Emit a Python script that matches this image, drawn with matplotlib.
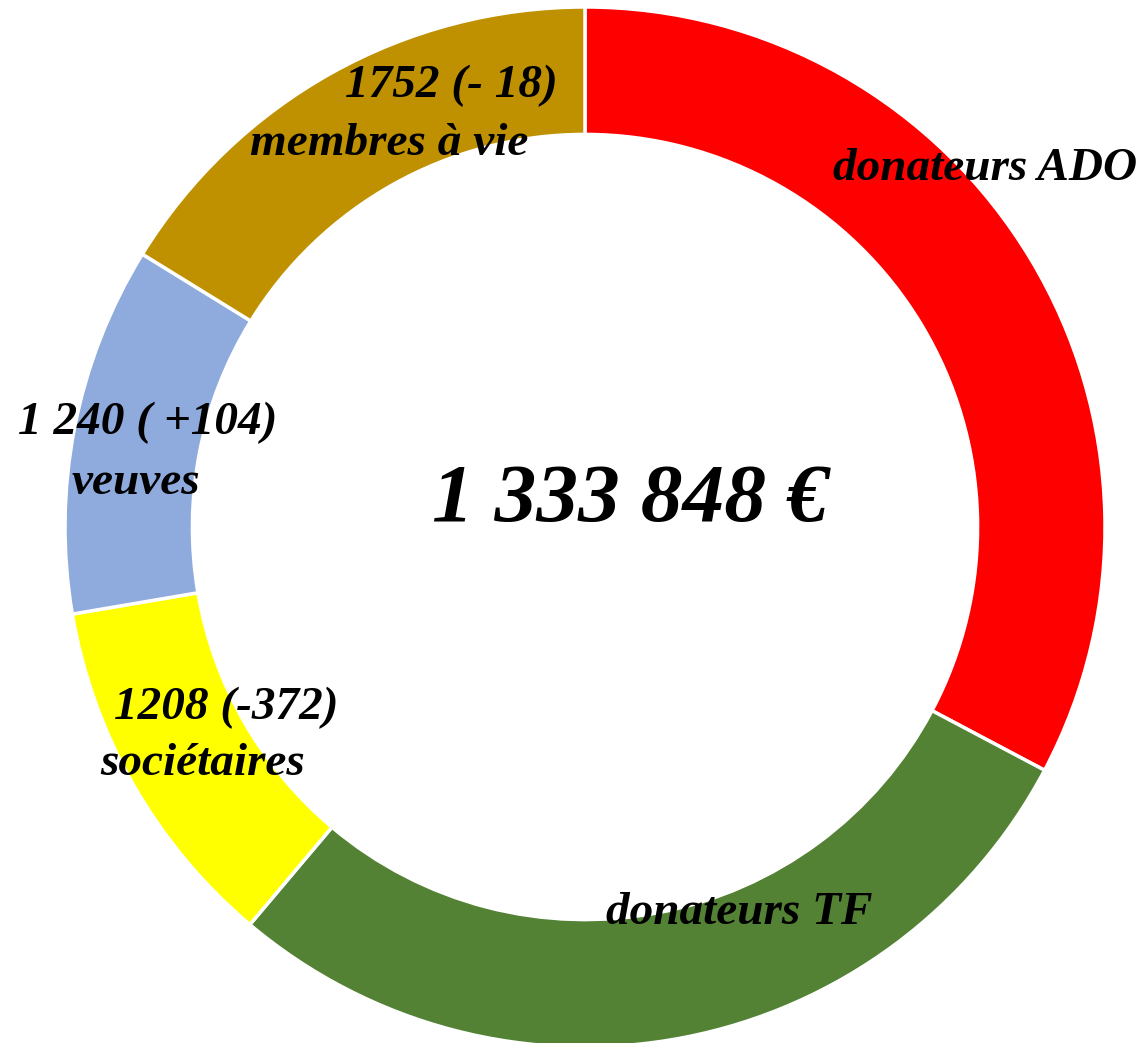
import matplotlib
matplotlib.use("Agg")
import matplotlib.pyplot as plt

# segments, clockwise from 12 o'clock
categories = ["donateurs ADO", "donateurs TF", "sociétaires", "veuves", "membres à vie"]
values = [3540, 3070, 1208, 1240, 1752]
colors = ["#FF0000", "#548235", "#FFFF00", "#8FAADC", "#BF9000"]
total_label = "1 333 848 €"

# label lines and where they sit (pixels in the 1139x1043 picture)
label_lines = [
    ("donateurs ADO", 985, 169),
    ("donateurs TF", 739, 913),
    ("1208 (-372)", 226, 708),
    ("sociétaires", 203, 764),
    ("1 240 ( +104)", 148, 423),
    ("veuves", 136, 483),
    ("1752 (- 18)", 451, 86),
    ("membres à vie", 389, 144),
]

W, H = 1139, 1043
cx, cy, R = 585, 527, 520

fig = plt.figure(figsize=(W / 100, H / 100), dpi=100)
ax = fig.add_axes([0, 0, 1, 1])

ax.pie(values, colors=colors, startangle=90, counterclock=False, radius=1,
       wedgeprops=dict(width=0.245, edgecolor="white", linewidth=2.5))

ax.set_xlim(-cx / R, (W - cx) / R)
ax.set_ylim(-(H - cy) / R, cy / R)
ax.set_aspect("equal")
ax.axis("off")

font = dict(family="Liberation Serif", fontweight="bold", fontstyle="italic")

def px(x, y):
    return (x - cx) / R, (cy - y) / R

for text, x, y in label_lines:
    ax.text(*px(x, y), text, ha="center", va="center", fontsize=34, **font)

ax.text(*px(630, 502), total_label, ha="center", va="center", fontsize=60, **font)

fig.savefig("out.png", dpi=100)
